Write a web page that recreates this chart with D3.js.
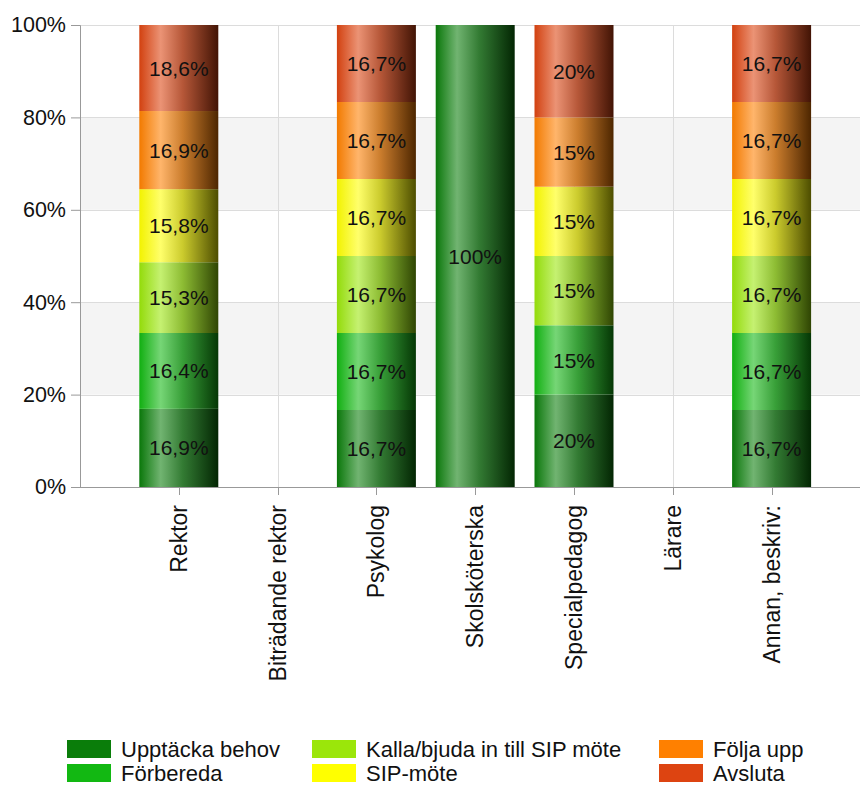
<!DOCTYPE html>
<html>
<head>
<meta charset="utf-8">
<script src="https://cdn.jsdelivr.net/npm/d3@7"></script>
<style>
  html, body { margin: 0; padding: 0; background: #fff; }
  svg { display: block; font-family: "Liberation Sans", Arial, sans-serif; }
</style>
</head>
<body>
<svg id="chart" width="860" height="787"></svg>
<script>
// ---- data ----
const categories = ["Rektor", "Biträdande rektor", "Psykolog", "Skolsköterska", "Specialpedagog", "Lärare", "Annan, beskriv:"];
const seriesNames = ["Upptäcka behov", "Förbereda", "Kalla/bjuda in till SIP möte", "SIP-möte", "Följa upp", "Avsluta"];
const seriesColors = ["#0a7d0a", "#12b812", "#9be60a", "#ffff00", "#ff8000", "#dd4411"];
const upptackaBehov = [16.9, 0, 16.7, 100, 20, 0, 16.7];
const forbereda     = [16.4, 0, 16.7, 0, 15, 0, 16.7];
const kallaBjuda    = [15.3, 0, 16.7, 0, 15, 0, 16.7];
const sipMote       = [15.8, 0, 16.7, 0, 15, 0, 16.7];
const foljaUpp      = [16.9, 0, 16.7, 0, 15, 0, 16.7];
const avsluta       = [18.6, 0, 16.7, 0, 20, 0, 16.7];
const yTicks = [0, 0.2, 0.4, 0.6, 0.8, 1.0];

const seriesValues = [upptackaBehov, forbereda, kallaBjuda, sipMote, foljaUpp, avsluta];
const table = categories.map((c, i) => {
  const row = { category: c };
  seriesNames.forEach((s, k) => row[s] = seriesValues[k][i]);
  return row;
});

// ---- layout ----
const svg = d3.select("#chart");
const mLeft = 80, mRight = 860, mTop = 25, mBottom = 487;
const step = 98.8;
const x = d3.scalePoint().domain(categories).range([mLeft + step, mLeft + step * 7]);
const y = d3.scaleLinear().domain([0, 1]).range([mBottom, mTop]);
const barW = 79;

const sv = d3.formatLocale({ decimal: ",", thousands: " ", grouping: [3], currency: ["", ""] });
const fmtInt = sv.format("d"), fmtDec = sv.format(".1f");
const fmt = v => (Math.abs(v - Math.round(v)) < 1e-9 ? fmtInt(v) : fmtDec(v)) + "%";

// gradients
const defs = svg.append("defs");
seriesColors.forEach((c, i) => {
  const g = defs.append("linearGradient").attr("id", "grad" + i)
    .attr("x1", "0%").attr("x2", "100%").attr("y1", "0%").attr("y2", "0%");
  const stops = [
    [0, d3.interpolateRgb(c, "#000")(0.05)],
    [0.27, d3.interpolateRgb(c, "#fff")(0.42)],
    [0.55, d3.interpolateRgb(c, "#777")(0.38)],
    [1, d3.interpolateRgb(c, "#000")(0.7)]
  ];
  stops.forEach(s => g.append("stop").attr("offset", s[0]).attr("stop-color", s[1]));
});

// bands
const bandPairs = [[0.2, 0.4], [0.6, 0.8]];
svg.append("g").selectAll("rect").data(bandPairs).join("rect")
  .attr("x", mLeft).attr("width", mRight - mLeft)
  .attr("y", d => y(d[1])).attr("height", d => y(d[0]) - y(d[1]))
  .attr("fill", "#f4f4f4");

// horizontal grid
svg.append("g").selectAll("line").data(yTicks.filter(t => t > 0)).join("line")
  .attr("x1", mLeft).attr("x2", mRight)
  .attr("y1", d => Math.round(y(d)) + 0.5).attr("y2", d => Math.round(y(d)) + 0.5)
  .attr("stroke", "#dcdcdc");

// vertical grid
svg.append("g").selectAll("line").data(categories).join("line")
  .attr("x1", d => Math.round(x(d)) + 0.5).attr("x2", d => Math.round(x(d)) + 0.5)
  .attr("y1", mTop).attr("y2", mBottom)
  .attr("stroke", "#dcdcdc");

// stacked bars
const stack = d3.stack().keys(seriesNames).offset(d3.stackOffsetExpand);
const stacked = stack(table);

const layers = svg.append("g").selectAll("g").data(stacked).join("g")
  .attr("fill", (d, i) => `url(#grad${i})`);
layers.selectAll("rect").data(d => d.filter(p => p.data[d.key] > 0)).join("rect")
  .attr("x", p => x(p.data.category) - barW / 2)
  .attr("width", barW)
  .attr("y", p => y(p[1]))
  .attr("height", p => y(p[0]) - y(p[1]));

// labels
const labels = svg.append("g").attr("font-size", 21).attr("fill", "#111").attr("text-anchor", "middle");
stacked.forEach(layer => {
  layer.filter(p => p.data[layer.key] > 0).forEach(p => {
    labels.append("text")
      .attr("x", x(p.data.category))
      .attr("y", (y(p[0]) + y(p[1])) / 2)
      .attr("dy", "0.36em")
      .text(fmt(p.data[layer.key]));
  });
});

// y axis
const yAxis = svg.append("g").attr("transform", `translate(${mLeft},0)`)
  .call(d3.axisLeft(y).tickValues(yTicks).tickFormat(d => Math.round(d * 100) + "%").tickSizeOuter(0).tickSize(9).tickPadding(5));
yAxis.select(".domain").attr("stroke", "#999");
yAxis.selectAll(".tick line").attr("stroke", "#999");
yAxis.selectAll("text").attr("font-size", 21.5).attr("fill", "#111").attr("font-family", "Liberation Sans, Arial, sans-serif");

// x axis
const xAxisG = svg.append("g").attr("transform", `translate(0,${mBottom})`);
xAxisG.append("line").attr("x1", mLeft).attr("x2", mRight).attr("y1", 0.5).attr("y2", 0.5).attr("stroke", "#999");
xAxisG.selectAll("line.tk").data(categories).join("line").attr("class", "tk")
  .attr("x1", d => Math.round(x(d)) + 0.5).attr("x2", d => Math.round(x(d)) + 0.5)
  .attr("y1", 0).attr("y2", 8).attr("stroke", "#999");
xAxisG.selectAll("text").data(categories).join("text")
  .attr("transform", d => `translate(${x(d)},18) rotate(-90)`)
  .attr("text-anchor", "end").attr("dy", "0.35em")
  .attr("font-size", 23).attr("fill", "#111")
  .text(d => d);

// legend
const legendCols = [67, 312, 659];
const legendRows = [740, 764];
const legend = svg.append("g");
seriesNames.forEach((s, i) => {
  const col = Math.floor(i / 2), row = i % 2;
  const g = legend.append("g").attr("transform", `translate(${legendCols[col]},${legendRows[row]})`);
  g.append("rect").attr("width", 44).attr("height", 18).attr("fill", seriesColors[i]);
  g.append("text").attr("x", 54).attr("y", 9).attr("dy", "0.36em")
    .attr("font-size", 22).attr("fill", "#111").text(s);
});
</script>
</body>
</html>
